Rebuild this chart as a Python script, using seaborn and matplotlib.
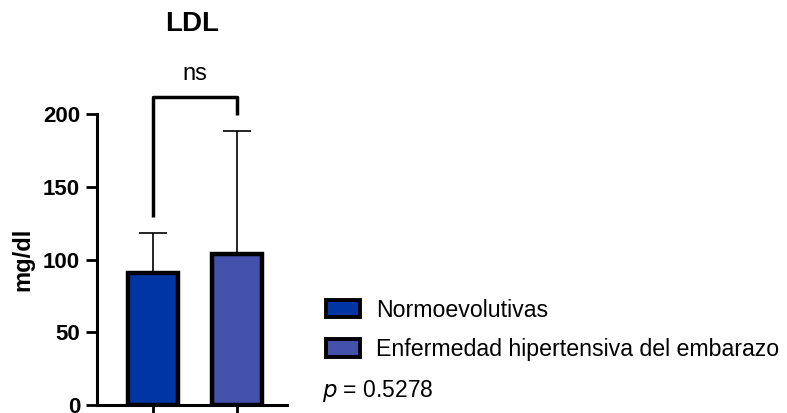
import matplotlib
matplotlib.use("Agg")
import matplotlib.pyplot as plt
import seaborn as sns
import pandas as pd
from matplotlib.patches import Patch

# data
groups = ['Normoevolutivas', 'Enfermedad hipertensiva del embarazo']
means = [91, 104]
sds = [27, 84]
colors = ['#0035A5', '#4451AA']
p_text = '= 0.5278'
title = 'LDL'
y_label = 'mg/dl'

sns.set_style('ticks')
plt.rcParams['font.family'] = ['Liberation Sans', 'DejaVu Sans']
for k in ['text.color', 'axes.labelcolor', 'xtick.color', 'ytick.color', 'axes.edgecolor']:
    plt.rcParams[k] = 'black'

df = pd.DataFrame({'group': groups, 'mean': means})

fig = plt.figure(figsize=(7.87, 4.13), dpi=100)
ax = fig.add_axes([0.123, 0.019, 0.242, 0.705])

sns.barplot(data=df, x='group', y='mean', hue='group', order=groups,
            hue_order=groups, palette=colors, saturation=1, edgecolor='black',
            linewidth=3.2, width=0.6, dodge=False, legend=False, ax=ax)

ax.errorbar(range(len(groups)), means, yerr=[[0, 0], sds], fmt='none',
            ecolor='black', elinewidth=1.2, capsize=10, capthick=1.2, zorder=1)

ax.set_ylim(0, 200)
ax.set_xlim(-0.67, 1.6)
ax.set_yticks([0, 50, 100, 150, 200])
ax.set_xticks(range(len(groups)))
ax.set_xticklabels([])
ax.set_xlabel('')
ax.set_ylabel(y_label, fontsize=17, fontweight='bold', labelpad=6)
for lab in ax.get_yticklabels():
    lab.set_fontweight('bold')
ax.tick_params(axis='y', labelsize=16, width=2, length=8, pad=4)
ax.tick_params(axis='x', width=2, length=8)
for s in ['left', 'bottom']:
    ax.spines[s].set_linewidth(2.2)
sns.despine(ax=ax)

# significance bracket
ax.plot([0, 0, 1, 1], [129, 212, 212, 199], color='black', lw=2.5,
        clip_on=False, solid_capstyle='butt')
ax.text(0.5, 220, 'ns', ha='center', va='bottom', fontsize=17, clip_on=False)

ax.set_title(title, fontsize=20, fontweight='bold', pad=60)

handles = [Patch(facecolor=c, edgecolor='black', linewidth=2.8) for c in colors]
fig.legend(handles, groups, loc='upper left', bbox_to_anchor=(0.4, 0.305),
           frameon=False, fontsize=16.7, borderpad=0, handlelength=1.45,
           handleheight=0.8, handletextpad=0.7, labelspacing=0.72)
fig.text(0.409, 0.053, '$p$ ' + p_text, fontsize=16.5, va='center')

fig.savefig('out.png', dpi=100)
